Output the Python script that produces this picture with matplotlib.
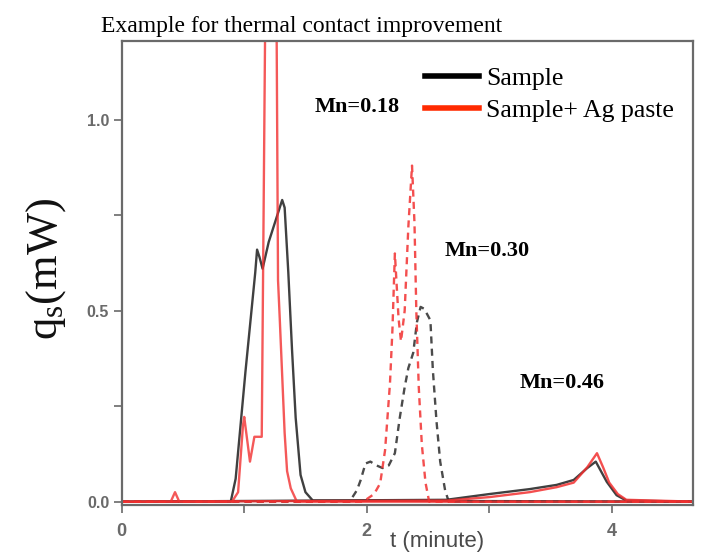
import matplotlib
matplotlib.use("Agg")
import matplotlib.pyplot as plt
from matplotlib.lines import Line2D
from matplotlib.ticker import FixedLocator

plt.rcParams['mathtext.fontset'] = 'custom'
plt.rcParams['mathtext.rm'] = 'Liberation Serif'
plt.rcParams['mathtext.it'] = 'Liberation Serif:italic'

# ---- data (t in minutes, q_s in mW) ----
# Mn = 0.18 (solid)
t_018_sample = [0, 0.89, 0.93, 0.97, 1.01, 1.05, 1.09, 1.105, 1.125, 1.15, 1.20, 1.26,
                1.31, 1.33, 1.36, 1.39, 1.42, 1.46, 1.50, 1.56, 4.7]
q_018_sample = [0, 0, 0.06, 0.20, 0.34, 0.47, 0.60, 0.66, 0.64, 0.61, 0.68, 0.74,
                0.79, 0.77, 0.60, 0.40, 0.22, 0.07, 0.025, 0.003, 0]
t_018_ag = [0, 0.40, 0.435, 0.47, 0.90, 0.95, 0.99, 1.0, 1.047, 1.083, 1.115, 1.143,
            1.17, 1.215, 1.265, 1.276, 1.29, 1.31, 1.33, 1.35, 1.38, 1.43, 4.7]
q_018_ag = [0, 0, 0.025, 0, 0, 0.025, 0.20, 0.222, 0.105, 0.17, 0.17, 0.17,
            1.21, 2.4, 1.21, 0.58, 0.48, 0.33, 0.18, 0.08, 0.035, 0, 0]

# Mn = 0.30 (dashed)
t_030_sample = [0, 1.86, 1.92, 1.95, 1.99, 2.03, 2.08, 2.13, 2.18, 2.23, 2.27, 2.31,
                2.34, 2.38, 2.41, 2.44, 2.47, 2.52, 2.54, 2.57, 2.60, 2.64, 2.67, 4.7]
q_030_sample = [0, 0, 0.03, 0.056, 0.10, 0.105, 0.095, 0.088, 0.095, 0.127, 0.22, 0.30,
                0.35, 0.39, 0.47, 0.51, 0.505, 0.475, 0.345, 0.21, 0.105, 0.03, 0, 0]
t_030_ag = [0, 1.97, 2.06, 2.11, 2.15, 2.19, 2.21, 2.23, 2.26, 2.28, 2.31, 2.34, 2.37,
            2.39, 2.405, 2.425, 2.45, 2.48, 2.51, 4.7]
q_030_ag = [0, 0, 0.02, 0.048, 0.135, 0.31, 0.45, 0.65, 0.48, 0.42, 0.50, 0.72, 0.88,
            0.73, 0.50, 0.30, 0.15, 0.05, 0, 0]

# Mn = 0.46 (solid)
t_046_sample = [0, 2.65, 3.0, 3.33, 3.55, 3.69, 3.80, 3.87, 3.96, 4.04, 4.12, 4.7]
q_046_sample = [0, 0.005, 0.02, 0.033, 0.044, 0.057, 0.088, 0.105, 0.052, 0.017, 0.003, 0]
t_046_ag = [0, 2.65, 3.0, 3.33, 3.55, 3.69, 3.80, 3.88, 3.93, 3.98, 4.05, 4.12, 4.7]
q_046_ag = [0, 0.003, 0.012, 0.025, 0.038, 0.05, 0.09, 0.127, 0.09, 0.05, 0.02, 0.005, 0]

series_labels = ["Sample", "Sample+ Ag paste"]
mn_labels = ["Mn=0.18", "Mn=0.30", "Mn=0.46"]
x_major = [0, 2, 4]
x_minor = [1, 3]
y_major = [0.0, 0.5, 1.0]
y_minor = [0.25, 0.75]

BLACK = '#2b2b2b'
RED = '#f23030'
GRAY = '#6a6a6a'

fig = plt.figure(figsize=(7.02, 5.53), dpi=100)
ax = fig.add_axes([0.1734, 0.0868, 0.8138, 0.8396])

lw = 1.7
ax.plot(t_018_sample, q_018_sample, color=BLACK, lw=lw, alpha=0.9)
ax.plot(t_046_sample, q_046_sample, color=BLACK, lw=lw, alpha=0.9)
ax.plot(t_030_sample, q_030_sample, color=BLACK, lw=lw, alpha=0.85, dashes=(3, 2.2))
ax.plot(t_018_ag, q_018_ag, color=RED, lw=lw, alpha=0.8)
ax.plot(t_046_ag, q_046_ag, color=RED, lw=lw, alpha=0.85)
ax.plot(t_030_ag, q_030_ag, color=RED, lw=lw, alpha=0.85, dashes=(3, 2.2))

ax.set_xlim(0, 4.664)
ax.set_ylim(-0.0086, 1.207)

ax.xaxis.set_major_locator(FixedLocator(x_major))
ax.xaxis.set_minor_locator(FixedLocator(x_minor))
ax.yaxis.set_major_locator(FixedLocator(y_major))
ax.yaxis.set_minor_locator(FixedLocator(y_minor))
ax.set_xticklabels([str(v) for v in x_major])
ax.set_yticklabels([f"{v:.1f}" for v in y_major])

for s in ax.spines.values():
    s.set_color(GRAY)
    s.set_linewidth(1.6)

ax.tick_params(which='both', direction='out', length=6, width=1.2, color=GRAY)
ax.tick_params(axis='x', which='major', pad=7, labelsize=13, labelcolor='#6a6a6a')
ax.tick_params(axis='y', which='major', pad=3, labelsize=11.5, labelcolor='#6a6a6a')
for lab in ax.get_xticklabels() + ax.get_yticklabels():
    lab.set_family('Liberation Sans')
    lab.set_fontweight('bold')

ax.set_xlabel("t (minute)", fontsize=16, color='#4a4a4a', family='Liberation Sans')
ax.xaxis.set_label_coords(0.552, -0.057)
ax.set_ylabel(r"q$_\mathrm{s}$(mW)", fontsize=32, family='Liberation Serif', color='#111111')
ax.yaxis.set_label_coords(-0.094, 0.509)

fig.text(0.429, 0.9427, "Example for thermal contact improvement",
         ha='center', va='baseline', fontsize=17, family='Liberation Serif')

# annotations
ax.text(1.578, 1.021, mn_labels[0], fontsize=16, fontweight='bold',
        family='Liberation Serif', ha='left', va='baseline')
ax.text(2.64, 0.643, mn_labels[1], fontsize=16, fontweight='bold',
        family='Liberation Serif', ha='left', va='baseline')
ax.text(3.25, 0.297, mn_labels[2], fontsize=16, fontweight='bold',
        family='Liberation Serif', ha='left', va='baseline')

handles = [Line2D([], [], color='black', lw=4), Line2D([], [], color='#ff2a00', lw=4)]
ax.legend(handles, series_labels, loc='upper left', bbox_to_anchor=(0.531, 0.943),
          frameon=False, borderpad=0, borderaxespad=0, handlelength=2.1,
          handletextpad=0.28, labelspacing=0.36,
          prop={'family': 'Liberation Serif', 'size': 18.5})

fig.savefig("out.png", dpi=100)
